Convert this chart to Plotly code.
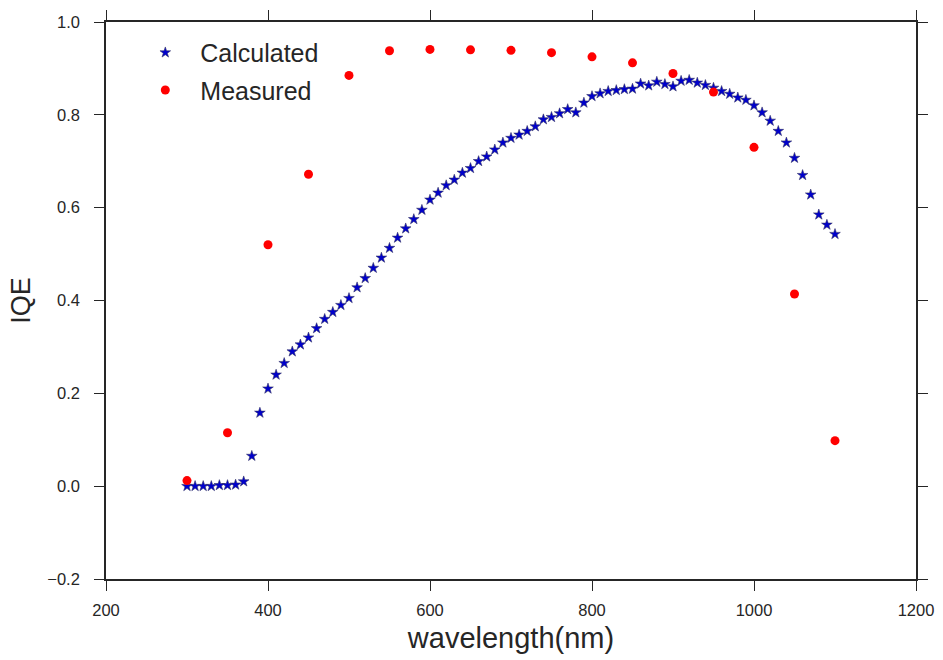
import plotly.graph_objects as go

calc_wl = list(range(300, 1101, 10))
calc_iqe = [0.0, 0.0, 0.0, 0.0, 0.002, 0.002, 0.003, 0.01, 0.065, 0.158,
            0.21, 0.24, 0.265, 0.29, 0.305, 0.32, 0.34, 0.36, 0.375, 0.39,
            0.405, 0.428, 0.448, 0.47, 0.492, 0.513, 0.535, 0.555, 0.575, 0.595,
            0.617, 0.632, 0.648, 0.66, 0.675, 0.685, 0.70, 0.71, 0.725, 0.74,
            0.75, 0.757, 0.765, 0.775, 0.79, 0.795, 0.803, 0.812, 0.805, 0.826,
            0.84, 0.846, 0.851, 0.853, 0.855, 0.856, 0.867, 0.863, 0.871, 0.866,
            0.861, 0.873, 0.875, 0.869, 0.864, 0.858, 0.851, 0.845, 0.837, 0.832,
            0.82, 0.805, 0.787, 0.765, 0.74, 0.707, 0.67, 0.628, 0.585, 0.563, 0.543]

meas_wl = [300, 350, 400, 450, 500, 550, 600, 650, 700, 750, 800, 850, 900, 950, 1000, 1050, 1100]
meas_iqe = [0.012, 0.115, 0.52, 0.672, 0.885, 0.938, 0.941, 0.94, 0.939, 0.934,
            0.925, 0.912, 0.889, 0.849, 0.73, 0.414, 0.098]

x_ticks = [200, 400, 600, 800, 1000, 1200]
y_ticks = [-0.2, 0.0, 0.2, 0.4, 0.6, 0.8, 1.0]

FONT = "Liberation Sans, Arial, sans-serif"
INK = "#262626"

fig = go.Figure()
fig.add_trace(go.Scatter(
    x=calc_wl, y=calc_iqe, mode="markers", name="Calculated", legendgroup="c",
    marker=dict(symbol="star", size=8, color="#0000cc",
                line=dict(color="#333366", width=0.6)),
))
fig.add_trace(go.Scatter(
    x=meas_wl, y=meas_iqe, mode="markers", name="Measured", legendgroup="m",
    marker=dict(symbol="circle", size=9, color="#ff0000", line=dict(width=0)),
))

axis_common = dict(
    showgrid=False, zeroline=False, showline=True, linecolor=INK, linewidth=1.6,
    mirror="ticks", ticks="outside", ticklen=10, tickwidth=1.3, tickcolor=INK,
    tickfont=dict(family=FONT, size=16.5, color=INK), automargin=False,
)

fig.update_layout(
    width=943, height=660,
    margin=dict(l=106, r=27, t=22, b=81),
    paper_bgcolor="white", plot_bgcolor="white",
    font=dict(family=FONT, color=INK),
    xaxis=dict(range=[200, 1200], tickvals=x_ticks,
               ticktext=[str(v) for v in x_ticks], ticklabelstandoff=5,
               title=dict(text="wavelength(nm)", font=dict(family=FONT, size=29, color=INK), standoff=10),
               **axis_common),
    yaxis=dict(range=[-0.2, 1.0], tickvals=y_ticks,
               ticktext=["\u22120.2" if v < 0 else f"{v:.1f}" for v in y_ticks],
               ticklabelstandoff=11,
               title=dict(text="IQE", font=dict(family=FONT, size=27, color=INK), standoff=9),
               **axis_common),
    legend=dict(x=0.03, y=0.986, xanchor="left", yanchor="top",
                bgcolor="rgba(0,0,0,0)", font=dict(family=FONT, size=25, color=INK),
                itemwidth=60, tracegroupgap=2, traceorder="grouped"),
    showlegend=True,
)

fig.write_html("out.html")
